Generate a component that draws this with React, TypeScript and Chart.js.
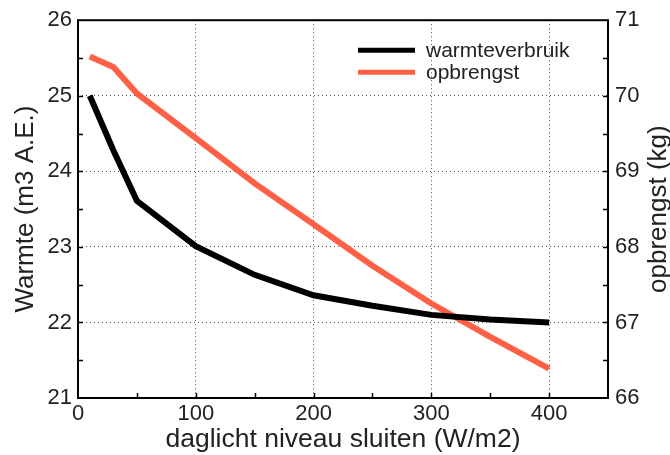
import React, { useEffect, useRef } from "react";
import { Chart, registerables } from "chart.js";

Chart.register(...registerables);

// Daylight threshold at which the screen closes (W/m2)
const daylightLevels = [10, 30, 50, 100, 150, 200, 250, 300, 350, 400];
// Heat consumption (m3 A.E.)
const heatUse = [25.0, 24.28, 23.61, 23.01, 22.63, 22.36, 22.22, 22.1, 22.04, 22.0];
// Crop yield (kg)
const cropYield = [70.52, 70.38, 70.03, 69.44, 68.84, 68.3, 67.75, 67.25, 66.81, 66.39];

const xTicks = [0, 100, 200, 300, 400];
const heatTicks = [21, 22, 23, 24, 25, 26];
const yieldTicks = [66, 67, 68, 69, 70, 71];

const seriesNames = ["warmteverbruik", "opbrengst"];
const seriesColors = ["#000000", "rgb(255, 96, 70)"];
const yieldTitle = "opbrengst (kg)";

const FONT = "'Liberation Sans', Arial, Helvetica, sans-serif";
const TEXT = "#222222";

// Frame, inward tick marks, right-hand axis title and the in-plot legend
const framePlugin = {
  id: "frame",
  afterDatasetsDraw(chart: any) {
    const { ctx, chartArea: a, scales } = chart;
    const x = scales.x;
    const yl = scales.y;
    const yr = scales.y2;
    ctx.save();
    ctx.strokeStyle = "#000";
    ctx.lineWidth = 1.5;
    // minor + major tick marks pointing into the plot
    const len = 5;
    ctx.beginPath();
    for (let v = 50; v < 450; v += 50) {
      const px = Math.round(x.getPixelForValue(v)) + 0.5;
      ctx.moveTo(px, a.bottom);
      ctx.lineTo(px, a.bottom - len);
    }
    for (let v = 21.5; v < 26; v += 0.5) {
      const py = Math.round(yl.getPixelForValue(v)) + 0.5;
      ctx.moveTo(a.left, py);
      ctx.lineTo(a.left + len, py);
    }
    for (let v = 66.5; v < 71; v += 0.5) {
      const py = Math.round(yr.getPixelForValue(v)) + 0.5;
      ctx.moveTo(a.right, py);
      ctx.lineTo(a.right - len, py);
    }
    ctx.stroke();
    // plot frame
    ctx.lineWidth = 2;
    ctx.strokeRect(a.left, a.top, a.right - a.left, a.bottom - a.top);

    // right axis title, reading bottom to top
    ctx.save();
    ctx.translate(yr.right - 11, (a.top + a.bottom) / 2);
    ctx.rotate(-Math.PI / 2);
    ctx.font = `26px ${FONT}`;
    ctx.fillStyle = TEXT;
    ctx.textAlign = "center";
    ctx.textBaseline = "middle";
    ctx.fillText(yieldTitle, 0, 0);
    ctx.restore();

    // legend
    const lx0 = a.left + 280;
    const lx1 = a.left + 337;
    const tx = a.left + 348;
    const rows = [a.top + 30, a.top + 52];
    ctx.font = `21px ${FONT}`;
    ctx.textBaseline = "middle";
    ctx.textAlign = "left";
    seriesNames.forEach((name, i) => {
      ctx.strokeStyle = seriesColors[i];
      ctx.lineWidth = 5;
      ctx.beginPath();
      ctx.moveTo(lx0, rows[i]);
      ctx.lineTo(lx1, rows[i]);
      ctx.stroke();
      ctx.fillStyle = TEXT;
      ctx.fillText(name, tx, rows[i] + 1);
    });
    ctx.restore();
  },
};

export default function App() {
  const canvasRef = useRef<HTMLCanvasElement | null>(null);

  useEffect(() => {
    const canvas = canvasRef.current;
    if (!canvas) return;
    const dotted = { display: false, dash: [1, 3] };
    const chart = new Chart(canvas, {
      type: "line",
      data: {
        datasets: [
          {
            label: seriesNames[0],
            data: daylightLevels.map((d, i) => ({ x: d, y: heatUse[i] })),
            borderColor: seriesColors[0],
            borderWidth: 6,
            pointRadius: 0,
            tension: 0,
            yAxisID: "y",
          },
          {
            label: seriesNames[1],
            data: daylightLevels.map((d, i) => ({ x: d, y: cropYield[i] })),
            borderColor: seriesColors[1],
            borderWidth: 6,
            pointRadius: 0,
            tension: 0,
            yAxisID: "y2",
          },
        ],
      },
      options: {
        animation: false,
        responsive: false,
        devicePixelRatio: 1,
        layout: { padding: { top: 20, left: 0, right: 0, bottom: 0 } },
        plugins: { legend: { display: false }, tooltip: { enabled: false } },
        scales: {
          x: {
            type: "linear",
            min: 0,
            max: 450,
            afterBuildTicks: (s: any) => {
              s.ticks = xTicks.map((v) => ({ value: v }));
            },
            afterFit: (s: any) => {
              s.height = 57;
            },
            grid: { color: "#555", lineWidth: 1, drawTicks: false },
            border: dotted,
            ticks: { color: TEXT, font: { family: FONT, size: 22 }, padding: 3, maxRotation: 0 },
            title: {
              display: true,
              text: "daglicht niveau sluiten (W/m2)",
              color: TEXT,
              font: { family: FONT, size: 26.5, lineHeight: 1 },
              padding: { top: 0, bottom: 2 },
            },
          },
          y: {
            type: "linear",
            position: "left",
            min: 21,
            max: 26,
            afterBuildTicks: (s: any) => {
              s.ticks = heatTicks.map((v) => ({ value: v }));
            },
            afterFit: (s: any) => {
              s.width = 78;
            },
            grid: { color: "#555", lineWidth: 1, drawTicks: false },
            border: dotted,
            ticks: { color: TEXT, font: { family: FONT, size: 22 }, padding: 6 },
            title: {
              display: true,
              text: "Warmte (m3 A.E.)",
              color: TEXT,
              font: { family: FONT, size: 26, lineHeight: 1 },
              padding: { top: 13, bottom: 0 },
            },
          },
          y2: {
            type: "linear",
            position: "right",
            min: 66,
            max: 71,
            afterBuildTicks: (s: any) => {
              s.ticks = yieldTicks.map((v) => ({ value: v }));
            },
            afterFit: (s: any) => {
              s.width = 62;
            },
            grid: { drawOnChartArea: false, drawTicks: false },
            border: { display: false },
            ticks: { color: TEXT, font: { family: FONT, size: 22 }, padding: 7 },
            title: { display: false },
          },
        },
      },
      plugins: [framePlugin],
    } as any);
    return () => chart.destroy();
  }, []);

  return (
    <div style={{ position: "fixed", left: 0, top: 0, width: 670, height: 455, background: "#fff" }}>
      <canvas ref={canvasRef} width={670} height={455} style={{ display: "block", width: 670, height: 455 }} />
    </div>
  );
}
